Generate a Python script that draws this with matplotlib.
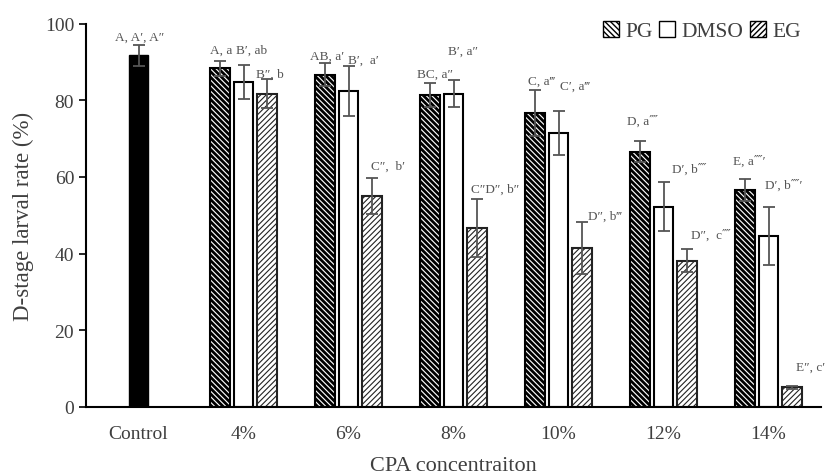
import numpy as np
import matplotlib
matplotlib.use("Agg")
import matplotlib.pyplot as plt
from matplotlib.patches import Patch

plt.rcParams['font.family'] = ['Liberation Serif', 'DejaVu Serif']

groups = ['Control', '4%', '6%', '8%', '10%', '12%', '14%']
control_mean = 91.7
control_err = 2.8
pg = [88.3, 86.7, 81.4, 76.6, 66.6, 56.6]
pg_err = [2.0, 2.9, 3.2, 6.0, 2.8, 2.9]
dmso = [84.7, 82.3, 81.7, 71.5, 52.2, 44.5]
dmso_err = [4.5, 6.5, 3.5, 5.8, 6.4, 7.6]
eg = [81.7, 55.0, 46.7, 41.5, 38.1, 5.1]
eg_err = [3.7, 4.8, 7.5, 6.7, 3.0, 0.5]

labels = ['A, A\u2032, A\u2033',
          'A, a', 'B\u2032, ab', 'B\u2033, b',
          'AB, a\u2032', 'B\u2032,  a\u2032', 'C\u2033,  b\u2032',
          'BC, a\u2033', 'B\u2032, a\u2033', 'C\u2033D\u2033, b\u2033',
          'C, a\u2034', 'C\u2032, a\u2034', 'D\u2033, b\u2034',
          'D, a\u2057', 'D\u2032, b\u2057', 'D\u2033,  c\u2057',
          'E, a\u2057\u2032', 'D\u2032, b\u2057\u2032', 'E\u2033, c\u2032']
label_x = [0.01, 0.79, 1.08, 1.25, 1.80, 2.14, 2.38, 2.82, 3.09, 3.40,
           3.84, 4.16, 4.44, 4.80, 5.25, 5.45, 5.82, 6.14, 6.40]
label_y = [96.5, 93.2, 93.1, 86.8, 91.6, 90.6, 62.9, 86.8, 93.0, 56.8,
           85.1, 83.8, 49.9, 74.7, 62.1, 44.9, 64.2, 57.9, 10.4]

gray = '#3f3f3f'
ecol = '#555555'

fig, ax = plt.subplots(figsize=(8.26, 4.77), dpi=100)
fig.subplots_adjust(left=86/826, right=821/826, bottom=1-408/477, top=1-24.5/477)

w = 0.19
off = 0.22
x = np.arange(1, len(groups))
ekw = dict(ecolor=ecol, elinewidth=1.3, capsize=4, capthick=1.3)

ax.bar(0, control_mean, w, color='black', edgecolor='black', yerr=control_err, error_kw=ekw, zorder=2)
b1 = ax.bar(x - off, pg, w, color='white', edgecolor='black', linewidth=1.5,
            hatch='\\\\\\\\\\\\', yerr=pg_err, error_kw=ekw, zorder=2)
b2 = ax.bar(x, dmso, w, color='white', edgecolor='black', linewidth=1.5,
            yerr=dmso_err, error_kw=ekw, zorder=2)
b3 = ax.bar(x + off, eg, w, color='white', edgecolor='#222222', linewidth=1.5,
            hatch='//////', yerr=eg_err, error_kw=ekw, zorder=2)
for p in b1:
    try:
        p.set_hatch_linewidth(2.0)
    except AttributeError:
        pass
for p in b3:
    try:
        p.set_hatch_linewidth(0.8)
    except AttributeError:
        pass

for t, lx, ly in zip(labels, label_x, label_y):
    ax.text(lx, ly, t, ha='center', va='center', fontsize=9.5, color='#555555')

ax.set_xlim(-0.5, len(groups) - 0.5)
ax.set_ylim(0, 100)
ax.set_yticks(range(0, 101, 20))
ax.set_xticks(range(len(groups)))
ax.set_xticklabels(groups)
ax.tick_params(axis='x', length=0, pad=13, labelsize=14, labelcolor=gray)
ax.tick_params(axis='y', length=5, width=1.2, labelsize=14, labelcolor=gray, direction='out')
ax.spines['top'].set_visible(False)
ax.spines['right'].set_visible(False)
ax.spines['left'].set_linewidth(1.5)
ax.spines['bottom'].set_linewidth(1.5)
ax.set_ylabel('D-stage larval rate (%)', fontsize=16.5, color=gray, labelpad=8)
ax.set_xlabel('CPA concentraiton', fontsize=16, color=gray, labelpad=10)

handles = [Patch(facecolor='white', edgecolor='black', hatch='\\\\\\\\\\\\', label='PG'),
           Patch(facecolor='white', edgecolor='black', label='DMSO'),
           Patch(facecolor='white', edgecolor='black', hatch='//////', label='EG')]
ax.legend(handles=handles, ncol=3, frameon=False, fontsize=15.5, labelcolor=gray,
          handlelength=0.75, handleheight=0.75, handletextpad=0.3, columnspacing=0.3,
          loc='center right', bbox_to_anchor=(0.985, 0.98), borderaxespad=0)

fig.savefig('out.png', dpi=100)
